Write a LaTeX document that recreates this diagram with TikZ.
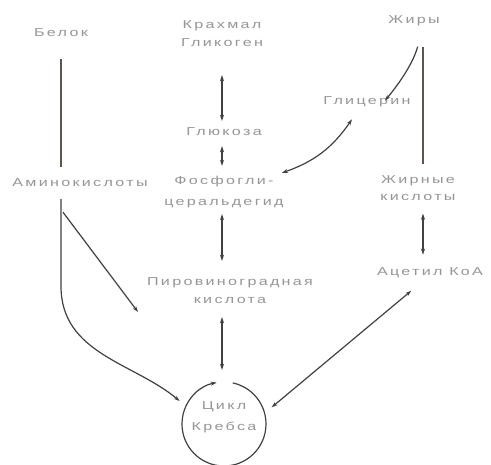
\documentclass[tikz,border=0pt]{standalone}
\usepackage{fontspec}
\setmainfont{Liberation Sans}[FakeStretch=1.4,LetterSpace=20]
\usetikzlibrary{arrows.meta,calc}
\definecolor{txt}{RGB}{150,150,150}
\definecolor{ln}{RGB}{65,65,65}
\definecolor{lnb}{RGB}{95,85,80}
\tikzset{
  lbl/.style={text=txt, inner sep=1pt, font=\fontsize{11.5}{18}\selectfont, align=center},
  conn/.style={draw=ln, line width=1.2pt},
  plain/.style={draw=lnb, line width=1.4pt},
  arr/.style={conn, -{Stealth[length=6pt,width=4pt]}},
  dbl/.style={conn, {Stealth[length=6pt,width=4pt]}-{Stealth[length=6pt,width=4pt]}}
}
\begin{document}
\begin{tikzpicture}[x=1pt,y=-1pt]
\useasboundingbox (0,0) rectangle (491,465);
\fill[white] (0,0) rectangle (491,465);
% nodes
\node[lbl] (belok) at (61,33) {Белок};
\node[lbl] (krah) at (222,34) {Крахмал\\Гликоген};
\node[lbl] (zhiry) at (414,21) {Жиры};
\node[lbl] (glits) at (367,102) {Глицерин};
\node[lbl] (glu) at (224,132) {Глюкоза};
\node[lbl] (amino) at (80,183) {Аминокислоты};
\node[lbl, font=\fontsize{11.5}{21}\selectfont] (fosf) at (224,192) {Фосфогли-\\церальдегид};
\node[lbl, font=\fontsize{11.5}{17}\selectfont] (zhirn) at (418,188) {Жирные\\кислоты};
\node[lbl] (piro) at (230,291) {Пировиноградная\\кислота};
\node[lbl] (acetil) at (430,273) {Ацетил КоА};
\node[lbl, font=\fontsize{11.5}{21}\selectfont] (krebs) at (224,417) {Цикл\\Кребса};
\node[circle, minimum size=84pt, inner sep=0pt] (cyc) at (224,424) {};
\coordinate (aend) at (138,312);
% cycle arc
\draw[arr] ([shift={(78:42pt)}]cyc.center) arc[start angle=78, end angle=-260, radius=42pt];
% connectors
\draw[plain, shorten <=21pt, shorten >=11pt] (belok.south) -- (belok.south |- amino.north);
\draw[dbl, shorten <=27pt, shorten >=6pt] (krah.south) -- (krah.south |- glu.north);
\draw[dbl, shorten <=9pt, shorten >=9pt] ([xshift=-2pt]glu.south) -- ([xshift=-2pt]glu.south |- fosf.north);
\draw[dbl, shorten <=5pt, shorten >=16pt] ([xshift=-2pt]fosf.south) -- ([xshift=-2pt]fosf.south |- piro.north);
\draw[dbl, shorten <=12pt, shorten >=12pt] ([xshift=-8pt]piro.south) -- ([xshift=-8pt]piro.south |- cyc.north);
\draw[plain, shorten <=20pt, shorten >=10pt] ([xshift=9pt]zhiry.south) -- ([xshift=5pt]zhirn.north);
\draw[arr, shorten <=20pt] ([xshift=9pt]zhiry.south) to[bend left=12] ([xshift=18pt,yshift=-5pt]glits.north);
\draw[dbl] ([xshift=-3pt,yshift=2pt]fosf.north east) to[bend right=18] ([xshift=-15pt,yshift=-11pt]glits.south);
\draw[dbl, shorten <=12pt, shorten >=12pt] ([xshift=5pt]zhirn.south) -- ([xshift=-7pt]acetil.north);
\draw[dbl, shorten <=18pt, shorten >=9pt] ([xshift=-5pt]acetil.south) -- (cyc.15);
\draw[arr, shorten >=8pt] ([yshift=-11pt]amino.south -| belok.south) -- ([yshift=-98pt]amino.south -| belok.south) to[out=-90,in=140] (cyc.155);
\draw[arr] ([xshift=2pt,yshift=-24pt]amino.south -| belok.south) -- (aend);
\end{tikzpicture}
\end{document}
